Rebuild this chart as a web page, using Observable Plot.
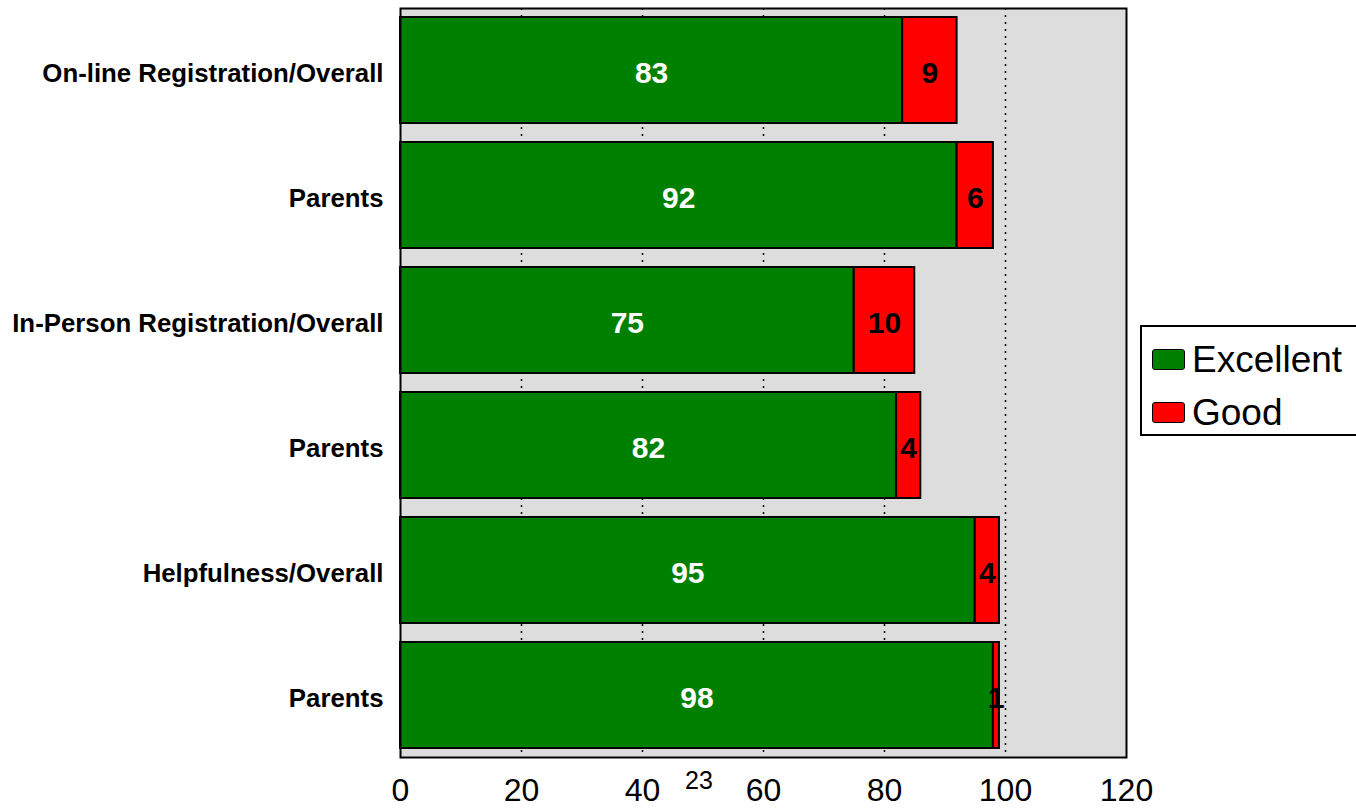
<!DOCTYPE html>
<html>
<head>
<meta charset="utf-8">
<script src="https://cdn.jsdelivr.net/npm/d3@7"></script>
<script src="https://cdn.jsdelivr.net/npm/@observablehq/plot@0.6"></script>
<style>
  html, body { margin: 0; padding: 0; background: #ffffff; }
  body { width: 1356px; height: 809px; position: relative; overflow: hidden; font-family: "Liberation Sans", Arial, sans-serif; }
  #chart { position: absolute; left: 0; top: 0; }
  .legend { position: absolute; left: 1140px; top: 325px; width: 260px; height: 111px; border: 2px solid #000; background: #fff; box-sizing: border-box; }
  .legend .item { position: absolute; left: 10px; display: flex; align-items: center; font-size: 37px; color: #000; line-height: 1; }
  .legend .sw { width: 31px; height: 19px; border: 1.5px solid #000; border-radius: 3px; margin-right: 7px; box-sizing: content-box; }
  .pagenum { position: absolute; left: 685px; top: 766px; font-size: 25px; color: #000; }
</style>
</head>
<body>
<div id="chart"></div>
<script>
// ---- data ----
const categories = [
  "On-line Registration/Overall",
  "Parents",
  "In-Person Registration/Overall",
  "Parents",
  "Helpfulness/Overall",
  "Parents"
];
const seriesNames = ["Excellent", "Good"];
const excellent = [83, 92, 75, 82, 95, 98];
const good = [9, 6, 10, 4, 4, 1];
const xTicks = [0, 20, 40, 60, 80, 100, 120];
const gridValues = [20, 40, 60, 80, 100];
const seriesColors = ["#008000", "#ff0000"];

// long table for stacking (keys keep duplicate labels distinct)
const keys = categories.map((c, i) => i);
const rows = [];
categories.forEach((c, i) => {
  rows.push({key: i, label: c, series: "Excellent", value: excellent[i]});
  rows.push({key: i, label: c, series: "Good", value: good[i]});
});

const chart = Plot.plot({
  width: 1356,
  height: 809,
  marginLeft: 400,
  marginRight: 230,
  marginTop: 8,
  marginBottom: 52,
  style: {fontFamily: "'Liberation Sans', Arial, sans-serif", background: "transparent", color: "#000"},
  x: {domain: [0, 120], ticks: xTicks},
  y: {domain: keys, paddingInner: 0.152, paddingOuter: 0.072},
  color: {domain: seriesNames, range: seriesColors},
  marks: [
    Plot.frame({fill: "#dddddd", stroke: "none"}),
    Plot.ruleX(gridValues, {stroke: "#000", strokeWidth: 1.5, strokeDasharray: "2,5"}),
    Plot.barX(rows, {x: "value", y: "key", fill: "series", stroke: "#000", strokeWidth: 2, order: seriesNames}),
    Plot.text(rows, Plot.stackX({
      x: "value", y: "key", z: "series", order: seriesNames,
      text: d => d.series === "Excellent" ? String(d.value) : null,
      fill: "#fff", fontSize: 30, fontWeight: "bold", dy: 3
    })),
    Plot.text(rows, Plot.stackX({
      x: "value", y: "key", z: "series", order: seriesNames,
      text: d => d.series === "Good" ? String(d.value) : null,
      fill: "#000", fontSize: 30, fontWeight: "bold", dy: 3
    })),
    Plot.frame({stroke: "#000", strokeWidth: 2}),
    Plot.axisY({
      tickSize: 0, tickPadding: 17, label: null,
      tickFormat: i => categories[i],
      fontSize: 25.8, fontWeight: "bold", dy: 3
    }),
    Plot.axisX({
      ticks: xTicks, tickSize: 0, tickPadding: 21, label: null,
      fontSize: 32
    })
  ]
});
document.getElementById("chart").appendChild(chart);

// legend
const legend = document.createElement("div");
legend.className = "legend";
seriesNames.forEach((name, i) => {
  const item = document.createElement("div");
  item.className = "item";
  item.style.top = (i === 0 ? 14 : 67) + "px";
  const sw = document.createElement("span");
  sw.className = "sw";
  sw.style.background = seriesColors[i];
  item.appendChild(sw);
  item.appendChild(document.createTextNode(name));
  legend.appendChild(item);
});
document.body.appendChild(legend);

// stray page number seen in the reference
const pn = document.createElement("div");
pn.className = "pagenum";
pn.textContent = "23";
document.body.appendChild(pn);
</script>
</body>
</html>
